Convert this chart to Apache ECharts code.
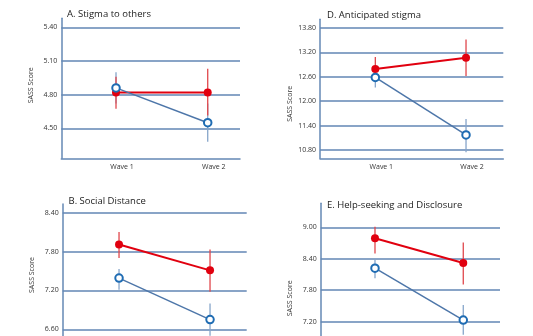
<!DOCTYPE html>
<html><head><meta charset="utf-8">
<script src="https://cdn.jsdelivr.net/npm/echarts@6/dist/echarts.min.js"></script>
<style>html,body{margin:0;padding:0;background:#fff}#c{width:533px;height:336px}</style>
</head><body><div id="c"></div>
<script>
const waves = ['Wave 1', 'Wave 2'];
const titles = ['A. Stigma to others', 'D. Anticipated stigma', 'B. Social Distance', 'E. Help-seeking and Disclosure'];
const yName = 'SASS Score';

// Panel A
const aTicks = [4.50, 4.80, 5.10, 5.40];
const aRedMean = [4.82, 4.82], aRedLo = [4.675, 4.615], aRedHi = [4.96, 5.03];
const aBlueMean = [4.86, 4.55], aBlueLo = [4.72, 4.38], aBlueHi = [5.00, 4.72];
// Panel D
const dTicks = [10.80, 11.40, 12.00, 12.60, 13.20, 13.80];
const dRedMean = [12.79, 13.07], dRedLo = [12.49, 12.62], dRedHi = [13.09, 13.52];
const dBlueMean = [12.585, 11.17], dBlueLo = [12.34, 10.745], dBlueHi = [12.83, 11.565];
// Panel B
const bTicks = [6.00, 6.60, 7.20, 7.80, 8.40];
const bRedMean = [7.91, 7.51], bRedLo = [7.70, 7.18], bRedHi = [8.10, 7.83];
const bBlueMean = [7.39, 6.75], bBlueLo = [7.21, 6.50], bBlueHi = [7.53, 7.00];
// Panel E
const eTicks = [6.60, 7.20, 7.80, 8.40, 9.00];
const eRedMean = [8.79, 8.32], eRedLo = [8.50, 7.91], eRedHi = [9.01, 8.71];
const eBlueMean = [8.22, 7.23], eBlueLo = [8.03, 6.95], eBlueHi = [8.39, 7.52];

const FONT = 'Open Sans';
const AXIS = '#6488b5', GRID = '#6286b4';
const RED = '#e1000f', RED_ERR = '#e0474c', BLUE_LINE = '#4d76a9', BLUE_MK = '#1f6cb3', BLUE_ERR = '#86a5ca';

const panels = [
  {grid:{left:61.3, top:18.3, width:178.7, height:140}, x:[0.4035, 2.352], y:[4.233, 5.480], ticks:aTicks,
   red:[aRedMean,aRedLo,aRedHi], blue:[aBlueMean,aBlueLo,aBlueHi], title:{left:67, top:9}, namePad:[0,0,0,6]},
  {grid:{left:320, top:19.3, width:183.3, height:139}, x:[0.390, 2.411], y:[10.596, 14.014], ticks:dTicks,
   red:[dRedMean,dRedLo,dRedHi], blue:[dBlueMean,dBlueLo,dBlueHi], title:{left:327, top:10.5}, namePad:[0,30,0,0]},
  {grid:{left:62.7, top:204, width:184, height:166}, x:[0.381, 2.403], y:[5.972, 8.534], ticks:bTicks,
   red:[bRedMean,bRedLo,bRedHi], blue:[bBlueMean,bBlueLo,bBlueHi], title:{left:68.5, top:196}, namePad:[0,0,0,24]},
  {grid:{left:320.7, top:203.3, width:179.3, height:166}, x:[0.385, 2.416], y:[6.292, 9.458], ticks:eTicks,
   red:[eRedMean,eRedLo,eRedHi], blue:[eBlueMean,eBlueLo,eBlueHi], title:{left:327, top:200.5}, namePad:[0,24,0,0]}
];

const option = {animation:false, backgroundColor:'#fff', title:[], grid:[], xAxis:[], yAxis:[], series:[]};

function errSeries(i, arr, color){
  return {type:'custom', xAxisIndex:i, yAxisIndex:i, z:1, silent:true,
    data: arr[0].map((m,k)=>[k+1, arr[1][k], arr[2][k]]),
    renderItem:(params, api)=>{
      const p1 = api.coord([api.value(0), api.value(1)]);
      const p2 = api.coord([api.value(0), api.value(2)]);
      return {type:'line', shape:{x1:p1[0], y1:p1[1], x2:p2[0], y2:p2[1]}, style:{stroke:color, lineWidth:1.3}};
    }};
}

panels.forEach((p,i)=>{
  option.title.push({text:titles[i], left:p.title.left, top:p.title.top, padding:0,
    textStyle:{fontFamily:FONT, fontSize:9.5, fontWeight:'normal', color:'#222'}});
  option.grid.push(Object.assign({containLabel:false, outerBoundsMode:'none'}, p.grid));
  option.xAxis.push({type:'value', gridIndex:i, min:p.x[0], max:p.x[1],
    axisLine:{lineStyle:{color:AXIS, width:1.5}}, axisTick:{show:false}, splitLine:{show:false},
    axisLabel:{customValues:[1,2], formatter:v=>waves[Math.round(v)-1], margin:5, padding:[0,0,0,12],
      fontFamily:FONT, fontSize:7, color:'#333'}});
  option.yAxis.push({type:'value', gridIndex:i, min:p.y[0], max:p.y[1],
    name:yName, nameLocation:'middle', nameGap:27,
    nameTextStyle:{fontFamily:FONT, fontSize:7, color:'#333', padding:p.namePad},
    axisLine:{show:true, lineStyle:{color:AXIS, width:1.5}},
    axisTick:{show:false, customValues:p.ticks},
    axisLabel:{customValues:p.ticks, formatter:v=>v.toFixed(2), margin:4, fontFamily:FONT, fontSize:7, color:'#333'},
    splitLine:{show:true, lineStyle:{color:GRID, width:1.5}}});
  option.series.push(errSeries(i, p.blue, BLUE_ERR));
  option.series.push(errSeries(i, p.red, RED_ERR));
  option.series.push({type:'line', xAxisIndex:i, yAxisIndex:i, z:3, silent:true,
    data:p.red[0].map((m,k)=>[k+1,m]), symbol:'circle', symbolSize:8,
    lineStyle:{color:RED, width:2}, itemStyle:{color:RED}});
  option.series.push({type:'line', xAxisIndex:i, yAxisIndex:i, z:4, silent:true,
    data:p.blue[0].map((m,k)=>[k+1,m]), symbol:'emptyCircle', symbolSize:7.5,
    lineStyle:{color:BLUE_LINE, width:1.5}, itemStyle:{color:BLUE_MK, borderColor:BLUE_MK, borderWidth:2}});
});

const chart = echarts.init(document.getElementById('c'), null, {renderer:'canvas'});
chart.setOption(option);
</script></body></html>
